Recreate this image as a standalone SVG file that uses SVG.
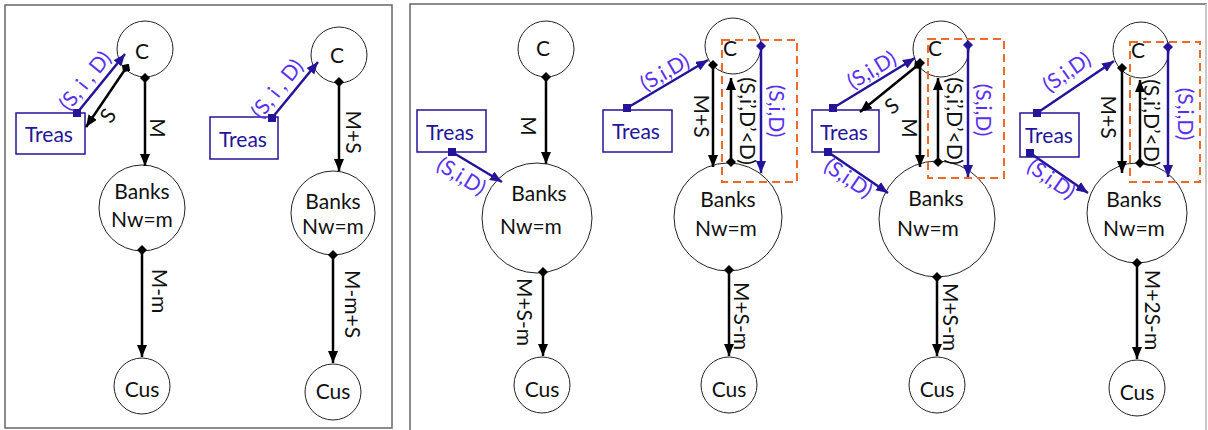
<svg xmlns="http://www.w3.org/2000/svg" width="1208" height="430" viewBox="0 0 1208 430">
<defs>
<marker id="ab" viewBox="0 0 12 10" refX="12" refY="5" markerWidth="12" markerHeight="10" markerUnits="userSpaceOnUse" orient="auto"><path d="M0,0 L12,5 L0,10 z" fill="#000"/></marker>
<marker id="au" viewBox="0 0 12 10" refX="12" refY="5" markerWidth="12" markerHeight="10" markerUnits="userSpaceOnUse" orient="auto"><path d="M0,0 L12,5 L0,10 z" fill="#24149a"/></marker>
<marker id="db" viewBox="0 0 10 10" refX="5" refY="5" markerWidth="10" markerHeight="10" markerUnits="userSpaceOnUse" orient="auto"><path d="M5,0 L10,5 L5,10 L0,5 z" fill="#000"/></marker>
<marker id="du" viewBox="0 0 10 10" refX="5" refY="5" markerWidth="10" markerHeight="10" markerUnits="userSpaceOnUse" orient="auto"><path d="M5,0 L10,5 L5,10 L0,5 z" fill="#24149a"/></marker>
<marker id="sq" viewBox="0 0 8 8" refX="4" refY="4" markerWidth="8" markerHeight="8" markerUnits="userSpaceOnUse" orient="0"><rect x="0" y="0" width="8" height="8" fill="#24149a"/></marker>
</defs>
<style>
.frame{fill:none;stroke:#666;stroke-width:1.5}
.node{fill:#fff;stroke:#222;stroke-width:1}
.tr{fill:#fff;stroke:#24149a;stroke-width:1.5}
.t{font-family:Lato,"Liberation Sans",sans-serif;font-size:21px;fill:#111;text-anchor:middle;dominant-baseline:central}
.tt{font-family:Lato,"Liberation Sans",sans-serif;font-size:21px;fill:#24149a;text-anchor:middle;dominant-baseline:central}
.l{font-family:Lato,"Liberation Sans",sans-serif;font-size:21px;fill:#111;text-anchor:middle;dominant-baseline:central}
.lb{font-family:Lato,"Liberation Sans",sans-serif;font-size:21px;fill:#5a30f0;text-anchor:middle;dominant-baseline:central}
.kd{stroke:#000;stroke-width:2.5;fill:none;marker-start:url(#db);marker-end:url(#ab)}
.ud{stroke:#24149a;stroke-width:2.5;fill:none;marker-start:url(#sq);marker-end:url(#au)}
.uv{stroke:#24149a;stroke-width:2.5;fill:none;marker-start:url(#du);marker-end:url(#au)}
.dash{fill:none;stroke:#f26a2a;stroke-width:2;stroke-dasharray:8 5}
</style>
<rect class="frame" x="5" y="5" width="387" height="423"/>
<rect x="410" y="4" width="796" height="430" fill="none" stroke="#666" stroke-width="1.5"/>
<line x1="1206" y1="4" x2="1206" y2="430" stroke="#ddd" stroke-width="1.5"/>

<!-- Diagram 1 -->
<g id="d1-C"><circle class="node" cx="145" cy="49" r="28"/><text class="t" x="142" y="50">C</text></g>
<g id="d1-Treas"><rect class="tr" x="16" y="113" width="69" height="41"/><text class="tt" x="49" y="133">Treas</text></g>
<g id="d1-Banks"><circle class="node" cx="142" cy="208" r="43"/><text class="t" x="142" y="190">Banks</text><text class="t" x="142" y="218">Nw=m</text></g>
<g id="d1-Cus"><circle class="node" cx="142" cy="386" r="28"/><text class="t" x="142" y="388">Cus</text></g>

<!-- Diagram 2 -->
<g id="d2-C"><circle class="node" cx="339" cy="55" r="28"/><text class="t" x="337" y="54">C</text></g>
<g id="d2-Treas"><rect class="tr" x="210" y="117" width="68" height="42"/><text class="tt" x="243" y="138">Treas</text></g>
<g id="d2-Banks"><circle class="node" cx="333" cy="213" r="42"/><text class="t" x="333" y="200">Banks</text><text class="t" x="333" y="225">Nw=m</text></g>
<g id="d2-Cus"><circle class="node" cx="333" cy="392" r="28"/><text class="t" x="333" y="390">Cus</text></g>

<!-- Diagram 3 -->
<g id="d3-C"><circle class="node" cx="546" cy="49" r="28"/><text class="t" x="543" y="47">C</text></g>
<g id="d3-Treas"><rect class="tr" x="417" y="110" width="69" height="42"/><text class="tt" x="450" y="131">Treas</text></g>
<g id="d3-Banks"><circle class="node" cx="537" cy="218" r="55"/><text class="t" x="539" y="192">Banks</text><text class="t" x="531" y="225">Nw=m</text></g>
<g id="d3-Cus"><circle class="node" cx="542" cy="385" r="28"/><text class="t" x="542" y="388">Cus</text></g>

<!-- Diagram 4 -->
<g id="d4-C"><circle class="node" cx="733" cy="46" r="28"/><text class="t" x="730" y="47">C</text></g>
<g id="d4-Treas"><rect class="tr" x="603" y="110" width="69" height="42"/><text class="tt" x="636" y="130">Treas</text></g>
<g id="d4-Banks"><circle class="node" cx="728" cy="217" r="54"/><text class="t" x="728" y="198">Banks</text><text class="t" x="726" y="227">Nw=m</text></g>
<g id="d4-Cus"><circle class="node" cx="729" cy="385" r="28"/><text class="t" x="729" y="388">Cus</text></g>

<!-- Diagram 5 -->
<g id="d5-C"><circle class="node" cx="941" cy="49" r="28"/><text class="t" x="935" y="47">C</text></g>
<g id="d5-Treas"><rect class="tr" x="812" y="110" width="67" height="42"/><text class="tt" x="844" y="131">Treas</text></g>
<g id="d5-Banks"><circle class="node" cx="937" cy="219" r="58"/><text class="t" x="936" y="197">Banks</text><text class="t" x="928" y="227">Nw=m</text></g>
<g id="d5-Cus"><circle class="node" cx="937" cy="385" r="28"/><text class="t" x="937" y="388">Cus</text></g>

<!-- Diagram 6 -->
<g id="d6-C"><circle class="node" cx="1141" cy="50" r="28"/><text class="t" x="1138" y="49">C</text></g>
<g id="d6-Treas"><rect class="tr" x="1020" y="113" width="59" height="44"/><text class="tt" x="1049" y="134">Treas</text></g>
<g id="d6-Banks"><circle class="node" cx="1137" cy="213" r="50"/><text class="t" x="1134" y="198">Banks</text><text class="t" x="1134" y="227">Nw=m</text></g>
<g id="d6-Cus"><circle class="node" cx="1137" cy="388" r="28"/><text class="t" x="1137" y="391">Cus</text></g>

<g id="connectors">
<!-- D1 -->
<line class="ud" x1="77" y1="113" x2="125" y2="54"/>
<line class="kd" x1="126" y1="68" x2="86" y2="127"/>
<line class="kd" x1="145" y1="78" x2="145" y2="166"/>
<line class="kd" x1="142" y1="250" x2="142" y2="357"/>
<!-- D2 -->
<line class="ud" x1="272" y1="118" x2="318" y2="62"/>
<line class="kd" x1="339" y1="82" x2="339" y2="171"/>
<line class="kd" x1="333" y1="255" x2="333" y2="363"/>
<!-- D3 -->
<line class="ud" x1="452" y1="152" x2="502" y2="182"/>
<line class="kd" x1="546" y1="77" x2="546" y2="164"/>
<line class="kd" x1="543" y1="272" x2="543" y2="356"/>
<!-- D4 -->
<rect class="dash" x="722" y="40" width="75" height="142"/>
<line class="ud" x1="627" y1="108" x2="708" y2="60"/>
<line class="kd" x1="713" y1="65" x2="713" y2="167"/>
<line class="kd" x1="731" y1="162" x2="731" y2="78"/>
<line class="uv" x1="761" y1="46" x2="761" y2="173"/>
<line class="kd" x1="729" y1="270" x2="729" y2="356"/>
<!-- D5 -->
<rect class="dash" x="928" y="39" width="76" height="139"/>
<line class="ud" x1="833" y1="108" x2="915" y2="58"/>
<line class="kd" x1="918" y1="65" x2="860" y2="112"/>
<line class="ud" x1="828" y1="152" x2="888" y2="193"/>
<line class="kd" x1="920" y1="63" x2="920" y2="167"/>
<line class="kd" x1="938" y1="162" x2="938" y2="78"/>
<line class="uv" x1="968" y1="45" x2="968" y2="177"/>
<line class="kd" x1="937" y1="277" x2="937" y2="356"/>
<!-- D6 -->
<rect class="dash" x="1130" y="42" width="70" height="140"/>
<line class="ud" x1="1037" y1="113" x2="1114" y2="61"/>
<line class="ud" x1="1030" y1="153" x2="1088" y2="193"/>
<line class="kd" x1="1122" y1="68" x2="1122" y2="173"/>
<line class="kd" x1="1140" y1="163" x2="1140" y2="80"/>
<line class="uv" x1="1168" y1="47" x2="1168" y2="177"/>
<line class="kd" x1="1137" y1="263" x2="1137" y2="359"/>
</g>

<g id="labels">
<!-- D1 -->
<text class="lb" transform="translate(84,80) rotate(-51)">(S, i , D)</text>
<text class="l" transform="translate(107,115) rotate(-55)">S</text>
<text class="l" transform="translate(158,128) rotate(90)">M</text>
<text class="l" transform="translate(160,291) rotate(90)">M-m</text>
<!-- D2 -->
<text class="lb" transform="translate(276,88) rotate(-51)">(S, i , D)</text>
<text class="l" transform="translate(354,132) rotate(90)">M+S</text>
<text class="l" transform="translate(353,304) rotate(90)">M-m+S</text>
<!-- D3 -->
<text class="lb" transform="translate(462,175) rotate(31)">(S,i,D)</text>
<text class="l" transform="translate(529,126) rotate(90)">M</text>
<text class="l" transform="translate(525,312) rotate(90)">M+S-m</text>
<!-- D4 -->
<text class="lb" transform="translate(664,71) rotate(-30)">(S,i,D)</text>
<text class="l" transform="translate(702,116) rotate(90)">M+S</text>
<text class="l" transform="translate(748,121) rotate(90)">(S,i’,D’&lt;D)</text>
<text class="lb" transform="translate(777,111) rotate(90)">(S,i,D)</text>
<text class="l" transform="translate(742,316) rotate(90)">M+S-m</text>
<!-- D5 -->
<text class="lb" transform="translate(871,69) rotate(-31)">(S,i,D)</text>
<text class="l" transform="translate(891,105) rotate(-39)">S</text>
<text class="lb" transform="translate(849,177) rotate(34)">(S,i,D)</text>
<text class="l" transform="translate(910,128) rotate(90)">M</text>
<text class="l" transform="translate(955,121) rotate(90)">(S,i’,D’&lt;D)</text>
<text class="lb" transform="translate(984,110) rotate(90)">(S,i,D)</text>
<text class="l" transform="translate(951,317) rotate(90)">M+S-m</text>
<!-- D6 -->
<text class="lb" transform="translate(1066,71) rotate(-35)">(S,i,D)</text>
<text class="lb" transform="translate(1052,178) rotate(35)">(S,i,D)</text>
<text class="l" transform="translate(1109,117) rotate(90)">M+S</text>
<text class="l" transform="translate(1152,123) rotate(90)">(S,i’,D’&lt;D)</text>
<text class="lb" transform="translate(1186,114) rotate(90)">(S,i,D)</text>
<text class="l" transform="translate(1153,310) rotate(90)">M+2S-m</text>
</g>
</svg>
